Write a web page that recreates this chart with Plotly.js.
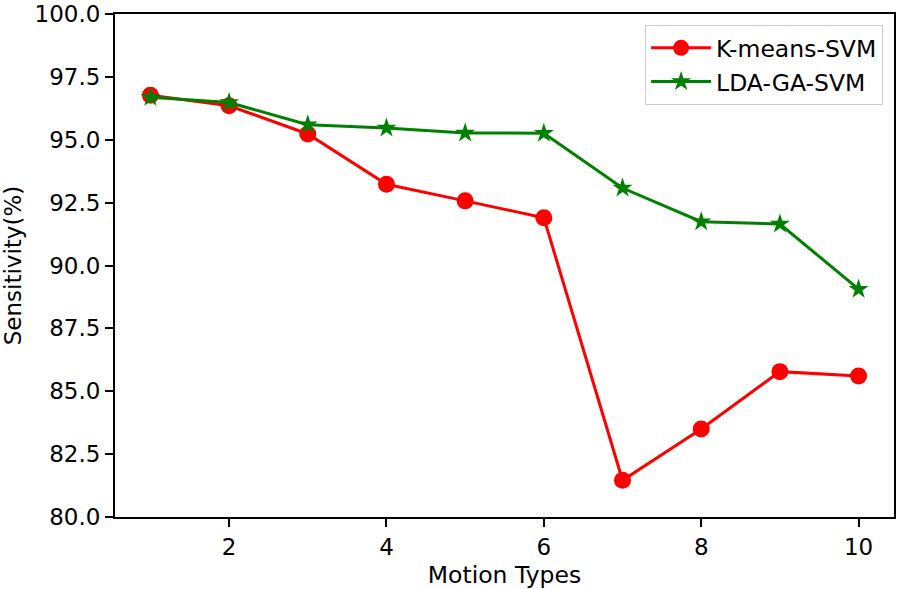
<!DOCTYPE html>
<html>
<head>
<meta charset="utf-8">
<script src="https://cdn.plot.ly/plotly-3.0.1.min.js"></script>
<style>html,body{margin:0;padding:0;background:#fff}#chart{width:898px;height:589px}</style>
</head>
<body>
<div id="chart"></div>
<script>
const motionTypes = [1, 2, 3, 4, 5, 6, 7, 8, 9, 10];
const kmeansSVM = [96.77, 96.35, 95.23, 93.23, 92.57, 91.90, 81.46, 83.50, 85.78, 85.61];
const ldaGaSVM = [96.69, 96.48, 95.60, 95.47, 95.27, 95.26, 93.08, 91.74, 91.65, 89.06];
const seriesNames = ['K-means-SVM', 'LDA-GA-SVM'];
const xTicks = [2, 4, 6, 8, 10];
const yTicks = [80, 82.5, 85, 87.5, 90, 92.5, 95, 97.5, 100];

const font = 'DejaVu Sans, sans-serif';
const traces = [
  {x: motionTypes, y: kmeansSVM, name: seriesNames[0], type: 'scatter', mode: 'lines+markers',
   line: {color: '#ff0000', width: 3}, marker: {symbol: 'circle', size: 17, color: '#ff0000'}},
  {x: motionTypes, y: ldaGaSVM, name: seriesNames[1], type: 'scatter', mode: 'lines+markers',
   line: {color: '#008000', width: 3}, marker: {symbol: 'star', size: 15, color: '#008000', line: {width: 0}}}
];
const axisCommon = {showline: true, linecolor: '#000', linewidth: 2, mirror: true, ticks: 'outside',
  ticklen: 8, tickwidth: 2, tickcolor: '#000', showgrid: false, zeroline: false,
  ticklabeloverflow: 'allow',
  tickfont: {family: font, size: 23, color: '#000'}};
const layout = {
  width: 898, height: 589,
  margin: {l: 115, r: 4, t: 14, b: 72},
  paper_bgcolor: '#fff', plot_bgcolor: '#fff',
  font: {family: font, size: 23, color: '#000'},
  xaxis: Object.assign({}, axisCommon, {range: [0.55, 10.45], tickvals: xTicks, ticktext: xTicks.map(String),
    title: {text: 'Motion Types', font: {family: font, size: 23.5, color: '#000'}, standoff: 9}}),
  yaxis: Object.assign({}, axisCommon, {range: [80, 100.0001], tickvals: yTicks, ticktext: yTicks.map(v => v.toFixed(1)),
    title: {text: 'Sensitivity(%)', font: {family: font, size: 23, color: '#000'}, standoff: 22}}),
  showlegend: true,
  legend: {x: 0.986, y: 0.978, xanchor: 'right', yanchor: 'top', bordercolor: '#cccccc', borderwidth: 1,
    bgcolor: 'rgba(255,255,255,0.8)', font: {family: font, size: 23.5, color: '#000'}, itemwidth: 60, tracegroupgap: 0}
};
Plotly.newPlot('chart', traces, layout, {displayModeBar: false, staticPlot: true});
</script>
</body>
</html>
